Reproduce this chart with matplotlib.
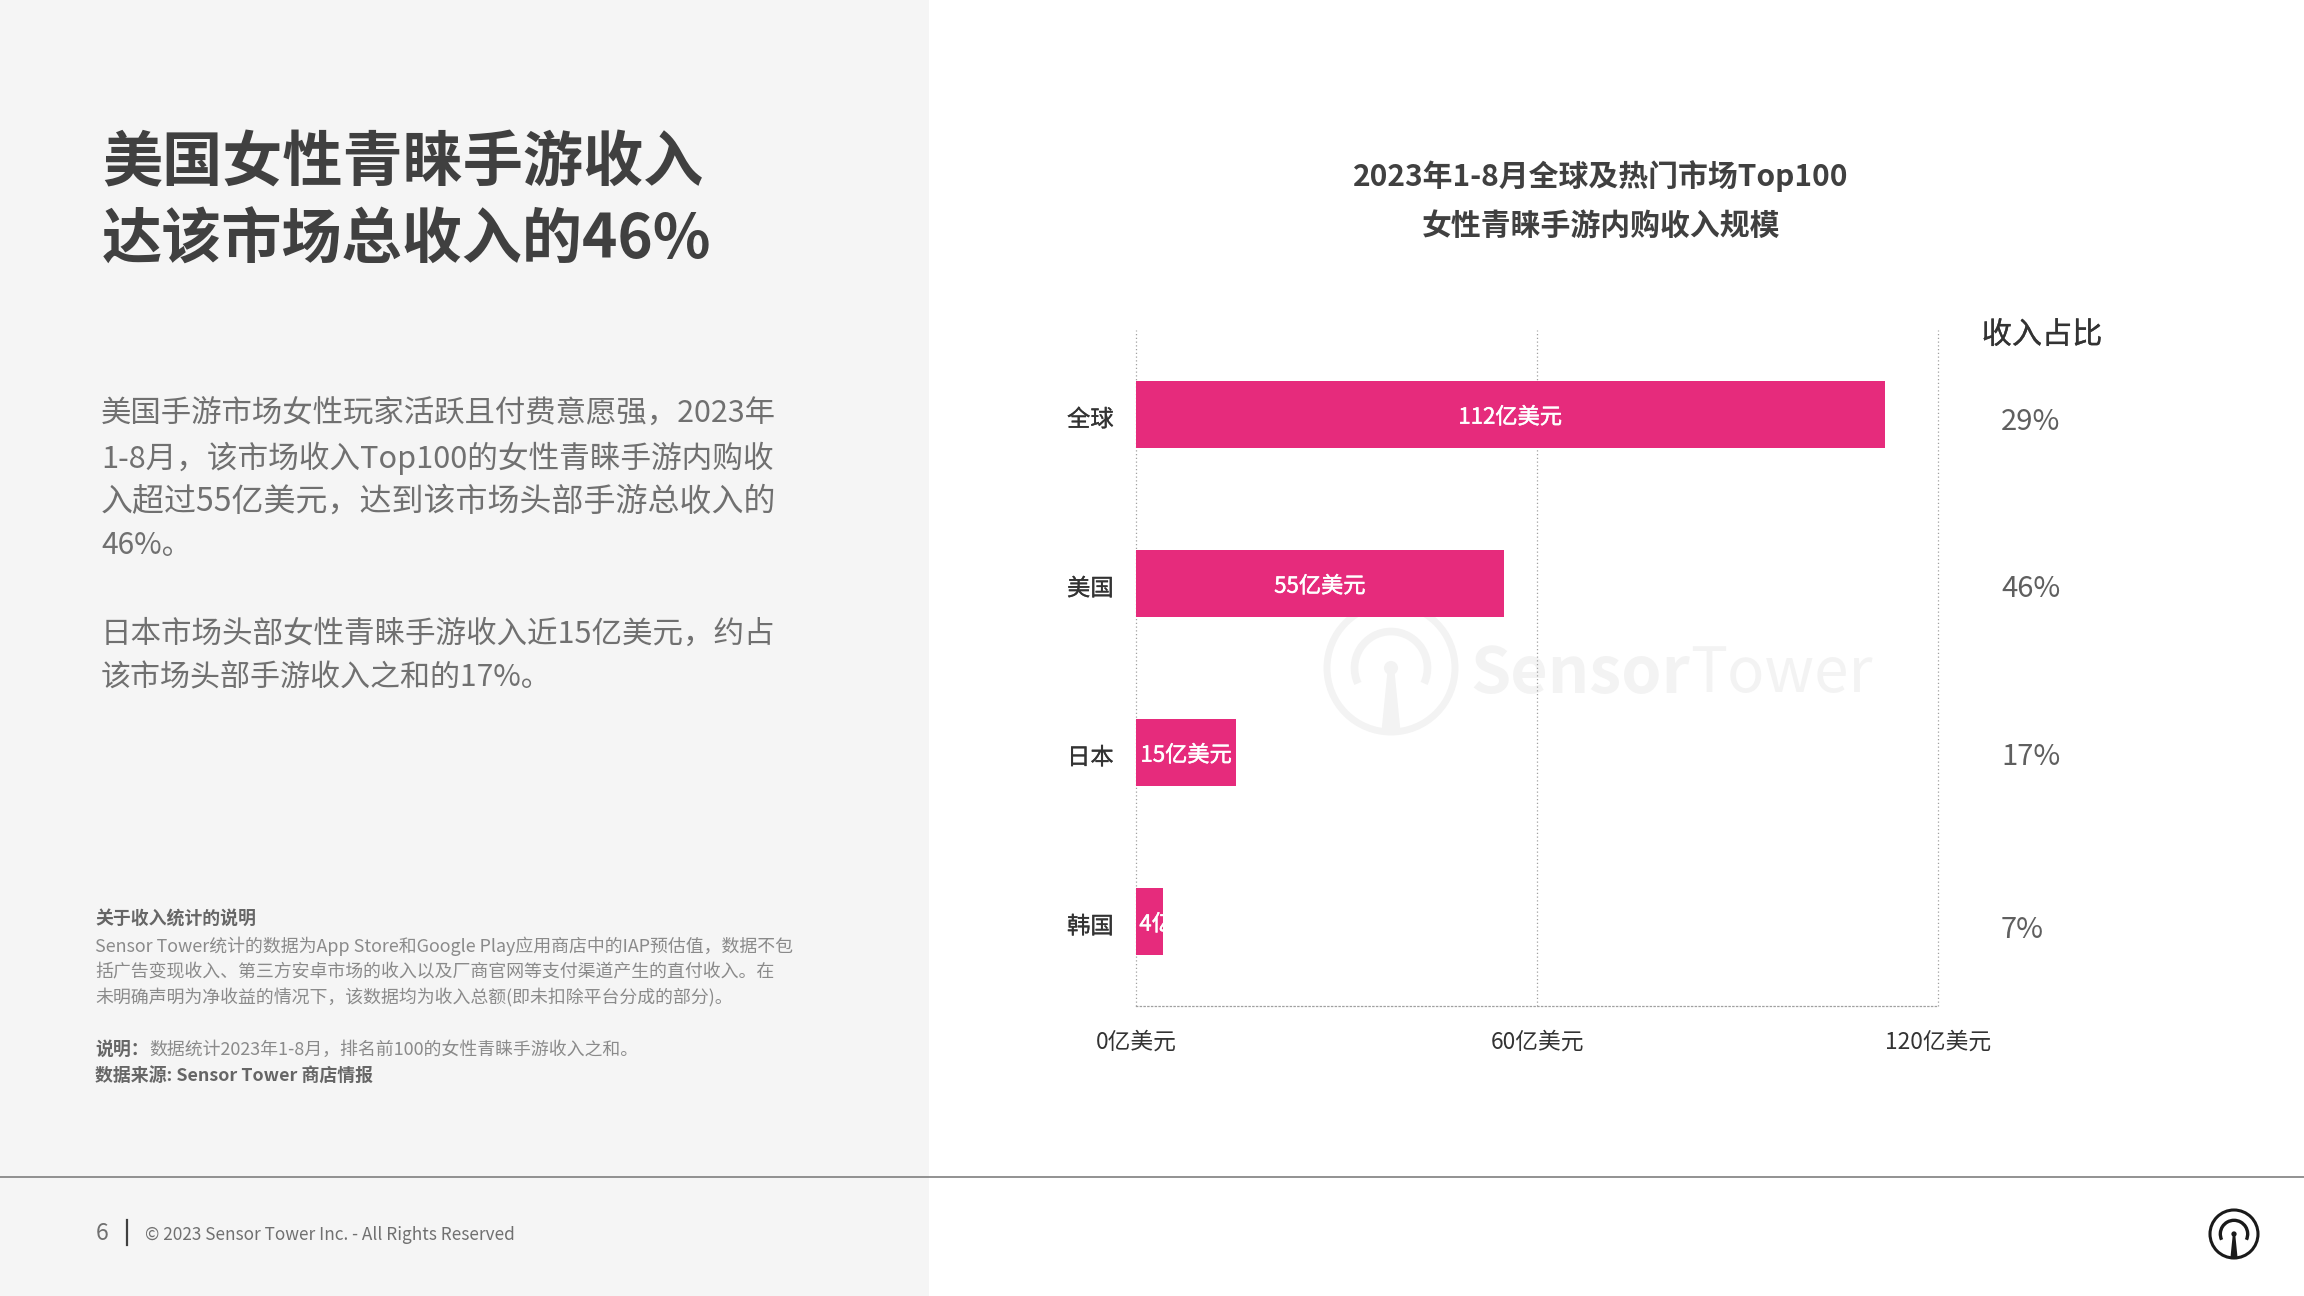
#!/usr/bin/env python3
# -*- coding: utf-8 -*-
import matplotlib
matplotlib.use('Agg')
import numpy as np
import matplotlib.pyplot as plt
import matplotlib.patheffects as pe
from matplotlib.patches import Arc, Circle, Polygon, Rectangle
from matplotlib.transforms import ScaledTranslation

plt.rcParams['font.family'] = ['Noto Sans CJK SC', 'DejaVu Sans']

# ==================== data ====================
markets = ['全球', '美国', '日本', '韩国']
revenue = [112, 55, 15, 4]
revenue_labels = ['112亿美元', '55亿美元', '15亿美元', '4亿美元']
shares = ['29%', '46%', '17%', '7%']
x_ticks = [0, 60, 120]
x_tick_labels = ['0亿美元', '60亿美元', '120亿美元']

title_lines = ['美国女性青睐手游收入', '达该市场总收入的46%']
body_lines = ['美国手游市场女性玩家活跃且付费意愿强，2023年',
              '1-8月，该市场收入Top100的女性青睐手游内购收',
              '入超过55亿美元，达到该市场头部手游总收入的',
              '46%。',
              '日本市场头部女性青睐手游收入近15亿美元，约占',
              '该市场头部手游收入之和的17%。']
note_lines = ['Sensor Tower统计的数据为App Store和Google Play应用商店中的IAP预估值，数据不包',
              '括广告变现收入、第三方安卓市场的收入以及厂商官网等支付渠道产生的直付收入。在',
              '未明确声明为净收益的情况下，该数据均为收入总额(即未扣除平台分成的部分)。']
chart_title = ['2023年1-8月全球及热门市场Top100', '女性青睐手游内购收入规模']
# =============================================

PINK = '#e62b7c'
PANEL = '#f5f5f5'
DARK = '#404040'
BODY = '#707070'
NOTE = '#8a8a8a'

share_y = [422, 589, 757, 930]
body_y = [414, 458, 502, 546, 634, 678]
# justified in the original, so each line gets its own size
body_size = [21.9, 22.1, 23.0, 21.6, 22.0, 21.6]
note_y = [946, 972, 998]

# slightly heavier than regular, there is no medium cut
MEDIUM_WHITE = [pe.withStroke(linewidth=0.35, foreground='white')]
MEDIUM_DARK = [pe.withStroke(linewidth=0.2, foreground='#333333')]


def draw_logo(ax, cx, cy, r, color, lw):
    ax.add_patch(Circle((cx, cy), r, fill=False, ec=color, lw=lw))
    ax.add_patch(Arc((cx, cy), 1.14 * r, 1.14 * r, theta1=155, theta2=25, ec=color, lw=lw * 1.1))
    ax.add_patch(Circle((cx, cy), 0.11 * r, fc=color, ec='none'))
    ax.add_patch(Polygon([(cx - 0.05 * r, cy), (cx + 0.05 * r, cy),
                          (cx + 0.15 * r, cy + r), (cx - 0.15 * r, cy + r)],
                         fc=color, ec='none'))


fig = plt.figure(figsize=(23.04, 12.96), dpi=100, facecolor='white')

# page layer in pixel coords
page = fig.add_axes([0, 0, 1, 1])
page.set_xlim(0, 2304)
page.set_ylim(1296, 0)
page.axis('off')
page.add_patch(Rectangle((0, 0), 929, 1296, fc=PANEL, ec='none'))
page.plot([0, 2304], [1177, 1177], color='#7f7f7f', lw=1.2)

for line, y in zip(title_lines, [164, 241]):
    page.text(102, y, line, fontsize=43.3, fontweight='bold', color=DARK, va='center')
for line, y, size in zip(body_lines, body_y, body_size):
    page.text(101, y, line, fontsize=size, color=BODY, va='center')

page.text(95, 920, '关于收入统计的说明', fontsize=12.9, fontweight='bold', color='#666666', va='center')
for line, y in zip(note_lines, note_y):
    page.text(95, y, line, fontsize=12.9, color=NOTE, va='center')
page.text(95, 1050, '说明：', fontsize=12.9, fontweight='bold', color='#666666', va='center')
page.text(149, 1050, '数据统计2023年1-8月，排名前100的女性青睐手游收入之和。', fontsize=12.9, color=NOTE, va='center')
page.text(95, 1077, '数据来源: Sensor Tower 商店情报', fontsize=12.9, fontweight='bold', color='#666666', va='center')

page.text(96, 1234, '6', fontsize=16.5, color=BODY, va='center')
page.plot([127, 127], [1220, 1245], color='#404040', lw=1.6)
page.text(145, 1235, '© 2023 Sensor Tower Inc. - All Rights Reserved', fontsize=12.4, color=BODY, va='center')
draw_logo(page, 2234, 1234, 24, '#1a1a1a', 2.2)

for line, y in zip(chart_title, [176, 226]):
    page.text(1601, y, line, fontsize=21.5, fontweight='bold', color=DARK, ha='center', va='center')

# watermark
draw_logo(page, 1391, 668, 64, '#f3f3f3', 5)
page.text(1470, 674, 'Sensor', fontsize=46.5, fontweight='bold', color='#f3f3f3', va='center')
page.text(1690, 674, 'Tower', fontsize=44.5, color='#f3f3f3', va='center')

# chart
ax = fig.add_axes([1136 / 2304, 1 - 1006 / 1296, (1938 - 1136) / 2304, (1006 - 330) / 1296])
ax.patch.set_alpha(0)
y_pos = np.arange(len(markets))
bars = ax.barh(y_pos, revenue, height=0.4, color=PINK, zorder=3)
ax.set_xlim(0, 120)
ax.set_ylim(3.5, -0.5)
ax.set_yticks(y_pos)
ax.set_yticklabels(markets, fontsize=16.8, color='#333333', path_effects=MEDIUM_DARK)
ax.set_xticks(x_ticks)
ax.set_xticklabels(x_tick_labels, fontsize=16.4, color='#333333')
ax.tick_params(axis='both', length=0)
ax.tick_params(axis='y', pad=16)
ax.tick_params(axis='x', pad=18)
ax.grid(axis='x', linestyle=(0, (1, 2)), color='#a0a0a0', linewidth=0.9, zorder=1)
for line in ax.get_xgridlines():
    line.set_clip_on(False)
for side in ['top', 'right', 'left']:
    ax.spines[side].set_visible(False)
ax.spines['bottom'].set_linestyle((0, (1, 2)))
ax.spines['bottom'].set_color('#a0a0a0')
ax.spines['bottom'].set_linewidth(0.9)

# labels sit a little under the bar centre
down = ScaledTranslation(0, -3 / 100, fig.dpi_scale_trans)
for lbl in ax.get_yticklabels():
    lbl.set_transform(lbl.get_transform() + down)

for bar, value, label in zip(bars, revenue, revenue_labels):
    cy = bar.get_y() + bar.get_height() / 2 + 0.016
    if value < 5:
        # label does not fit, the bar cuts it off
        t = ax.text(0.5, cy, label, color='white', fontsize=16, ha='left', va='center',
                    zorder=4, path_effects=MEDIUM_WHITE)
        t.set_clip_path(bar)
        t.set_clip_on(True)
    else:
        ax.text(value / 2, cy, label, color='white', fontsize=16, ha='center', va='center',
                zorder=4, path_effects=MEDIUM_WHITE)

page.text(2042, 335, '收入占比', fontsize=21.7, color='#333333', ha='center', va='center',
          path_effects=MEDIUM_DARK)
for share, y in zip(shares, share_y):
    page.text(2001, y, share, fontsize=21, color='#5f5f5f', va='center')

fig.savefig('out.png', dpi=100)
